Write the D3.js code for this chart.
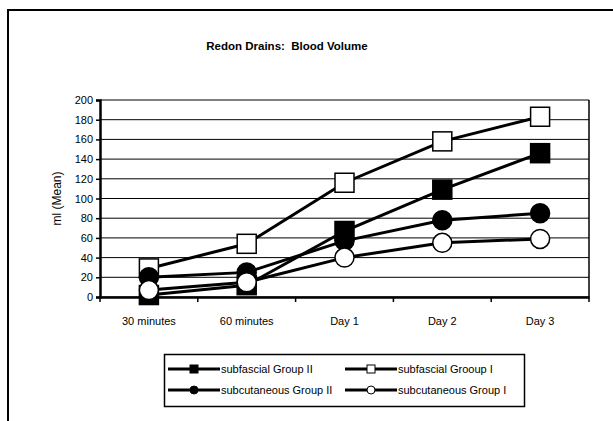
<!DOCTYPE html>
<html>
<head>
<meta charset="utf-8">
<script src="https://cdn.jsdelivr.net/npm/d3@7"></script>
<style>
  body { margin: 0; background: #fff; }
  text { font-family: "Liberation Sans", Arial, sans-serif; fill: #000; }
</style>
</head>
<body>
<script>
const categories = ['30 minutes', '60 minutes', 'Day 1', 'Day 2', 'Day 3'];
const yTicks = [0, 20, 40, 60, 80, 100, 120, 140, 160, 180, 200];

const subfascialII = [2, 12, 67, 109, 146];
const subfascialI = [29, 54, 116, 158, 183];
const subcutaneousII = [20, 25, 57, 78, 85];
const subcutaneousI = [7, 15, 40, 55, 59];

const series = [
  { name: 'subfascial Group II', values: subfascialII, shape: 'square', fill: '#000' },
  { name: 'subfascial Grooup I', values: subfascialI, shape: 'square', fill: '#fff' },
  { name: 'subcutaneous Group II', values: subcutaneousII, shape: 'circle', fill: '#000' },
  { name: 'subcutaneous Group I', values: subcutaneousI, shape: 'circle', fill: '#fff' }
];

const W = 613, H = 421;
const plot = { left: 100, top: 100, right: 589, bottom: 297 };

const svg = d3.select('body').append('svg')
  .attr('width', W)
  .attr('height', H);

// outer chart frame (runs off the right/bottom of the picture)
svg.append('rect')
  .attr('x', 8).attr('y', 10)
  .attr('width', 700).attr('height', 500)
  .attr('fill', 'none')
  .attr('stroke', '#000')
  .attr('stroke-width', 2);

svg.append('text')
  .attr('x', 287).attr('y', 50)
  .attr('text-anchor', 'middle')
  .style('font-size', '11.5px')
  .style('font-weight', 'bold')
  .style('white-space', 'pre')
  .text('Redon Drains:  Blood Volume');

const x = d3.scaleBand()
  .domain(categories)
  .range([plot.left, plot.right]);

const y = d3.scaleLinear()
  .domain([0, 200])
  .range([plot.bottom, plot.top]);

// gridlines
svg.append('g')
  .selectAll('line')
  .data(yTicks)
  .join('line')
  .attr('x1', plot.left).attr('x2', plot.right)
  .attr('y1', d => y(d)).attr('y2', d => y(d))
  .attr('stroke', '#000')
  .attr('stroke-width', 1);

// right border
svg.append('line')
  .attr('x1', plot.right).attr('x2', plot.right)
  .attr('y1', plot.top).attr('y2', plot.bottom)
  .attr('stroke', '#000')
  .attr('stroke-width', 1.5);

// y axis
const yAxis = svg.append('g')
  .attr('transform', `translate(${plot.left},0)`)
  .call(d3.axisLeft(y).tickValues(yTicks).tickSize(4).tickPadding(3));
yAxis.select('.domain').attr('stroke-width', 2.5);
yAxis.selectAll('.tick line').attr('stroke-width', 1.5);
yAxis.selectAll('text')
  .style('font-size', '11px')
  .style('font-family', '"Liberation Sans", Arial, sans-serif');

// x axis, ticks at category boundaries
const xAxis = svg.append('g')
  .attr('transform', `translate(0,${plot.bottom})`)
  .call(d3.axisBottom(x).tickSize(0).tickPadding(20));
xAxis.select('.domain').attr('stroke-width', 2.5);
xAxis.selectAll('text')
  .style('font-size', '11px')
  .style('font-family', '"Liberation Sans", Arial, sans-serif');
xAxis.selectAll('.bound')
  .data(d3.range(categories.length + 1))
  .join('line')
  .attr('class', 'bound')
  .attr('x1', i => plot.left + i * x.step())
  .attr('x2', i => plot.left + i * x.step())
  .attr('y1', 0).attr('y2', 5)
  .attr('stroke', '#000')
  .attr('stroke-width', 1.5);

svg.append('text')
  .attr('transform', `translate(61,${(plot.top + plot.bottom) / 2}) rotate(-90)`)
  .attr('text-anchor', 'middle')
  .style('font-size', '12px')
  .text('ml (Mean)');

const line = d3.line()
  .x((d, i) => x(categories[i]) + x.bandwidth() / 2)
  .y(d => y(d));

function marker(g, s, cx, cy, size, sw) {
  if (s.shape === 'square') {
    g.append('rect')
      .attr('x', cx - size / 2).attr('y', cy - size / 2)
      .attr('width', size).attr('height', size)
      .attr('fill', s.fill)
      .attr('stroke', '#000')
      .attr('stroke-width', sw);
  } else {
    g.append('circle')
      .attr('cx', cx).attr('cy', cy)
      .attr('r', size / 2)
      .attr('fill', s.fill)
      .attr('stroke', '#000')
      .attr('stroke-width', sw);
  }
}

series.forEach(s => {
  const g = svg.append('g');
  g.append('path')
    .datum(s.values)
    .attr('d', line)
    .attr('fill', 'none')
    .attr('stroke', '#000')
    .attr('stroke-width', 3);
  s.values.forEach((v, i) => {
    marker(g, s, x(categories[i]) + x.bandwidth() / 2, y(v), 19, 1.5);
  });
});

// legend
const legend = svg.append('g');
legend.append('rect')
  .attr('x', 164.5).attr('y', 354.5)
  .attr('width', 360).attr('height', 52)
  .attr('fill', '#fff')
  .attr('stroke', '#000')
  .attr('stroke-width', 1.5);

const legendPos = [[168, 369], [345, 369], [168, 390], [345, 390]];
series.forEach((s, i) => {
  const [lx, ly] = legendPos[i];
  const g = legend.append('g');
  g.append('line')
    .attr('x1', lx).attr('x2', lx + 52)
    .attr('y1', ly).attr('y2', ly)
    .attr('stroke', '#000')
    .attr('stroke-width', 3);
  marker(g, s, lx + 26, ly, 8, 1);
  g.append('text')
    .attr('x', lx + 53).attr('y', ly + 4)
    .style('font-size', '11px')
    .text(s.name);
});
</script>
</body>
</html>
